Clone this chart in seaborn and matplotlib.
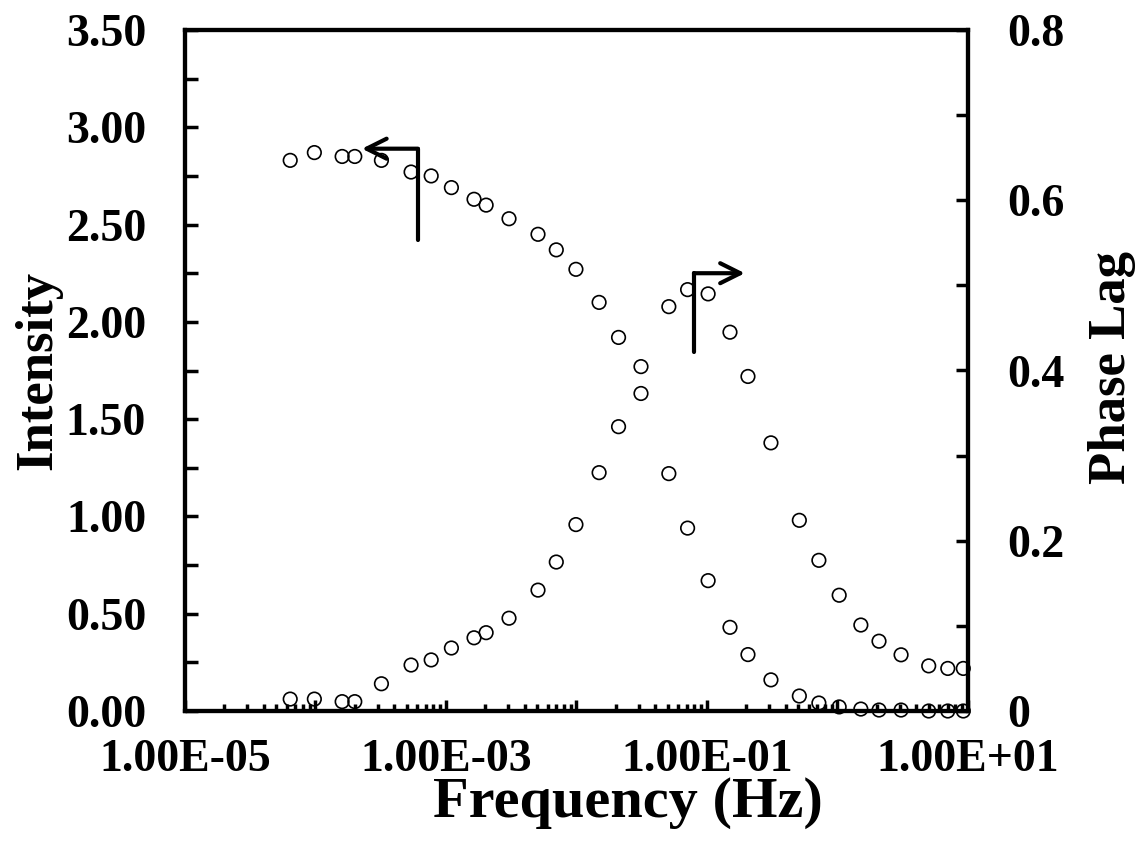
import numpy as np
import pandas as pd
import matplotlib
matplotlib.use("Agg")
import matplotlib.pyplot as plt
import matplotlib.ticker as mticker
import seaborn as sns

# ---- data ----
frequency = [6.4e-5, 9.8e-5, 1.6e-4, 2.0e-4, 3.2e-4, 5.4e-4, 7.7e-4, 1.10e-3, 1.64e-3,
             2.03e-3, 3.04e-3, 5.07e-3, 7.0e-3, 9.9e-3, 1.49e-2, 2.10e-2, 3.12e-2,
             5.1e-2, 7.1e-2, 1.02e-1, 1.50e-1, 2.06e-1, 3.09e-1, 5.1e-1, 7.2e-1,
             1.03, 1.51, 2.08, 3.07, 5.0, 7.0, 9.2]
intensity = [2.83, 2.87, 2.85, 2.85, 2.83, 2.77, 2.75, 2.69, 2.63, 2.60, 2.53, 2.45,
             2.37, 2.27, 2.10, 1.92, 1.77, 1.22, 0.94, 0.67, 0.43, 0.29, 0.16, 0.077,
             0.041, 0.021, 0.010, 0.005, 0.005, 0.0, 0.0, 0.0]
phase_lag = [0.014, 0.014, 0.011, 0.011, 0.032, 0.054, 0.060, 0.074, 0.086, 0.092,
             0.109, 0.142, 0.175, 0.219, 0.280, 0.334, 0.373, 0.475, 0.495, 0.490,
             0.445, 0.393, 0.315, 0.224, 0.177, 0.136, 0.101, 0.082, 0.066, 0.053,
             0.050, 0.050]
x_tick_values = [1e-5, 1e-3, 1e-1, 1e1]
x_tick_labels = ["1.00E-05", "1.00E-03", "1.00E-01", "1.00E+01"]
left_ticks = [0.0, 0.5, 1.0, 1.5, 2.0, 2.5, 3.0, 3.5]
right_ticks = [0.0, 0.2, 0.4, 0.6, 0.8]
right_tick_labels = ["0", "0.2", "0.4", "0.6", "0.8"]

df = pd.DataFrame({"Frequency": frequency, "Intensity": intensity, "Phase": phase_lag})

sns.set_theme(style="ticks")
plt.rcParams["font.family"] = ["Liberation Serif", "DejaVu Serif"]
plt.rcParams["font.weight"] = "bold"
for k in ("text.color", "axes.labelcolor", "xtick.color", "ytick.color", "axes.edgecolor"):
    plt.rcParams[k] = "black"

fig = plt.figure(figsize=(11.38, 8.46), dpi=100)
ax = fig.add_axes([185 / 1138, 1 - 711 / 846, (968 - 185) / 1138, (711 - 30) / 846])
ax2 = ax.twinx()

sns.scatterplot(data=df, x="Frequency", y="Intensity", ax=ax, marker="o", s=95,
                facecolors="none", edgecolor="black", linewidth=1.2, clip_on=False,
                zorder=5)
sns.scatterplot(data=df, x="Frequency", y="Phase", ax=ax2, marker="o", s=95,
                facecolors="none", edgecolor="black", linewidth=1.2, clip_on=False,
                zorder=5)

ax.set_xscale("log")
ax.set_xlim(1e-5, 1e1)
ax.set_ylim(0, 3.5)
ax2.set_ylim(0, 0.8)

fs_tick = 33
fs_ylabel = 38
fs_xlabel = 42

ax.xaxis.set_major_locator(mticker.FixedLocator([10.0 ** k for k in range(-5, 2)]))
ax.xaxis.set_minor_locator(mticker.LogLocator(base=10, subs=np.arange(2, 10), numticks=20))
lab_map = dict(zip(x_tick_values, x_tick_labels))
ax.xaxis.set_major_formatter(mticker.FuncFormatter(
    lambda v, p: next((l for k, l in lab_map.items() if abs(np.log10(v) - np.log10(k)) < 1e-6), "")))
ax.xaxis.set_minor_formatter(mticker.NullFormatter())

ax.set_yticks(left_ticks)
ax.set_yticklabels([f"{v:.2f}" for v in left_ticks])
ax.yaxis.set_minor_locator(mticker.MultipleLocator(0.25))
ax2.set_yticks(right_ticks)
ax2.set_yticklabels(right_tick_labels)
ax2.yaxis.set_minor_locator(mticker.MultipleLocator(0.1))

for a in (ax, ax2):
    for s in a.spines.values():
        s.set_linewidth(3.0)
        s.set_color("black")
    a.tick_params(which="both", direction="in", width=2.5, colors="black",
                  labelsize=fs_tick)
    a.tick_params(which="major", length=8)
    a.tick_params(which="minor", length=5)
    for t in a.get_xticklabels() + a.get_yticklabels():
        t.set_fontweight("bold")
        t.set_color("black")
ax.tick_params(axis="y", which="both", length=9)
ax2.tick_params(axis="y", which="both", length=9)
ax.tick_params(axis="x", which="major", pad=20)
ax.tick_params(axis="y", pad=28)
ax2.tick_params(axis="y", pad=28)

ax.set_xlabel("Frequency (Hz)", fontsize=fs_xlabel, fontweight="bold")
ax.set_ylabel("Intensity", fontsize=fs_ylabel, fontweight="bold")
ax2.set_ylabel("Phase Lag", fontsize=fs_ylabel, fontweight="bold")
ax.xaxis.set_label_coords(0.566, -0.097)
ax.yaxis.set_label_coords(-0.157, 0.5)
ax2.yaxis.set_label_coords(1.153, 0.505)

# direction arrows
arrow_kw = dict(arrowstyle="->", lw=3, color="black", mutation_scale=36,
                shrinkA=0, shrinkB=0)
ax.plot([6.1e-4, 6.1e-4], [2.42, 2.89], color="black", lw=3, zorder=6)
ax.annotate("", xy=(2.27e-4, 2.89), xytext=(6.1e-4, 2.89), arrowprops=arrow_kw)
ax.plot([7.94e-2, 7.94e-2], [1.845, 2.25], color="black", lw=3, zorder=6)
ax.annotate("", xy=(1.95e-1, 2.25), xytext=(7.94e-2, 2.25), arrowprops=arrow_kw)

fig.savefig("out.png", dpi=100)
